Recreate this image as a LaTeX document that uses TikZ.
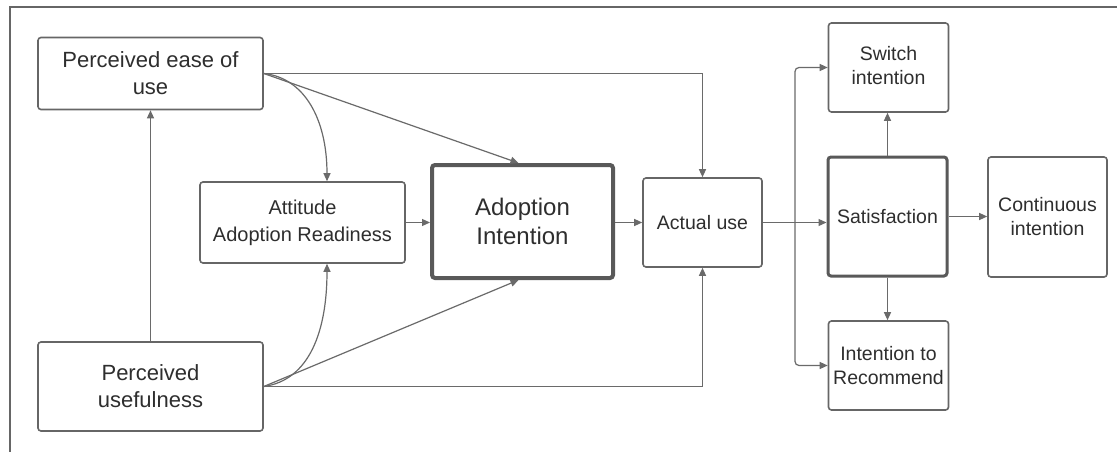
\documentclass[tikz,border=0pt]{standalone}
\usepackage{fontspec}
\setmainfont{Liberation Sans}
\usetikzlibrary{arrows.meta,calc}
\definecolor{linec}{HTML}{6A6A6A}
\definecolor{boxc}{HTML}{666666}
\definecolor{textc}{HTML}{2E2E2E}
\tikzset{
  box/.style={draw=boxc, line width=1.6pt, rounded corners=3pt, inner sep=0pt, align=center, text=textc, fill=white},
  thickbox/.style={box, line width=4pt, draw=black!65},
  medbox/.style={box, line width=3pt, draw=black!65},
  arr/.style={draw=linec, line width=1.2pt, -{Triangle[length=8pt,width=7pt]}},
  ln/.style={draw=linec, line width=1.2pt},
}
\begin{document}
\begin{tikzpicture}[x=1pt,y=-1pt]
\useasboundingbox (0,0) rectangle (1117,452);
\fill[white] (0,0) rectangle (1117,452);
% frame
\draw[draw=black!60, line width=2pt] (9.5,452) -- (9.5,7.5) -- (1117,7.5);
% nodes
\node[box, minimum width=225pt, minimum height=72pt, font=\fontsize{22}{27}\selectfont] (peou) at (150.5,73.5) {Perceived ease of\\use};
\node[box, minimum width=225pt, minimum height=89pt, font=\fontsize{22}{27}\selectfont] (pu) at (150.5,386.5) {Perceived\\usefulness};
\node[box, minimum width=205pt, minimum height=81pt, font=\fontsize{20}{27}\selectfont] (att) at (302.5,222.5) {Attitude\\Adoption Readiness};
\node[thickbox, minimum width=181pt, minimum height=113pt, font=\fontsize{24}{29}\selectfont] (adopt) at (522.5,221.5) {Adoption\\Intention};
\node[box, minimum width=119pt, minimum height=89pt, font=\fontsize{19.5}{24}\selectfont] (actual) at (702.5,222.5) {Actual use};
\node[box, minimum width=120pt, minimum height=89pt, font=\fontsize{19.5}{24}\selectfont] (switch) at (888.5,67.5) {Switch\\intention\vphantom{g}};
\node[medbox, minimum width=119pt, minimum height=119pt, font=\fontsize{19.5}{24}\selectfont] (sat) at (887.5,216.5) {Satisfaction};
\node[box, minimum width=119pt, minimum height=120pt, font=\fontsize{19.5}{24}\selectfont] (cont) at (1047.5,217) {Continuous\\intention};
\node[box, minimum width=120pt, minimum height=89pt, font=\fontsize{19.5}{24}\selectfont] (rec) at (888.5,365.5) {Intention to\\Recommend};
% connectors left
\draw[arr] (pu.north) -- (peou.south);
\draw[arr] (peou.east) -| (actual.north);
\draw[arr] (peou.east) -- ([xshift=-4pt]adopt.north);
\draw[arr] (peou.east) .. controls (305,78) and (327,120) .. ([xshift=24.5pt]att.north);
\draw[arr] (pu.east) -| (actual.south);
\draw[arr] (pu.east) -- ([xshift=-4pt]adopt.south);
\draw[arr] (pu.east) .. controls (310,380) and (327,330) .. ([xshift=24.5pt]att.south);
\draw[arr] (att.east) -- (adopt.west |- att.east);
\draw[arr] (adopt.east |- actual.west) -- (actual.west);
% right part
\coordinate (j) at (795,222.5);
\draw[ln] (actual.east) -- (j);
\draw[arr, rounded corners=4pt] (j) |- (switch.west);
\draw[arr, rounded corners=4pt] (j) |- (rec.west);
\draw[arr] (j) -- (j -| sat.west);
\draw[arr] (sat.north) -- (sat.north |- switch.south);
\draw[arr] (sat.south) -- (sat.south |- rec.north);
\draw[arr] (sat.east) -- (cont.west |- sat.east);
\end{tikzpicture}
\end{document}
